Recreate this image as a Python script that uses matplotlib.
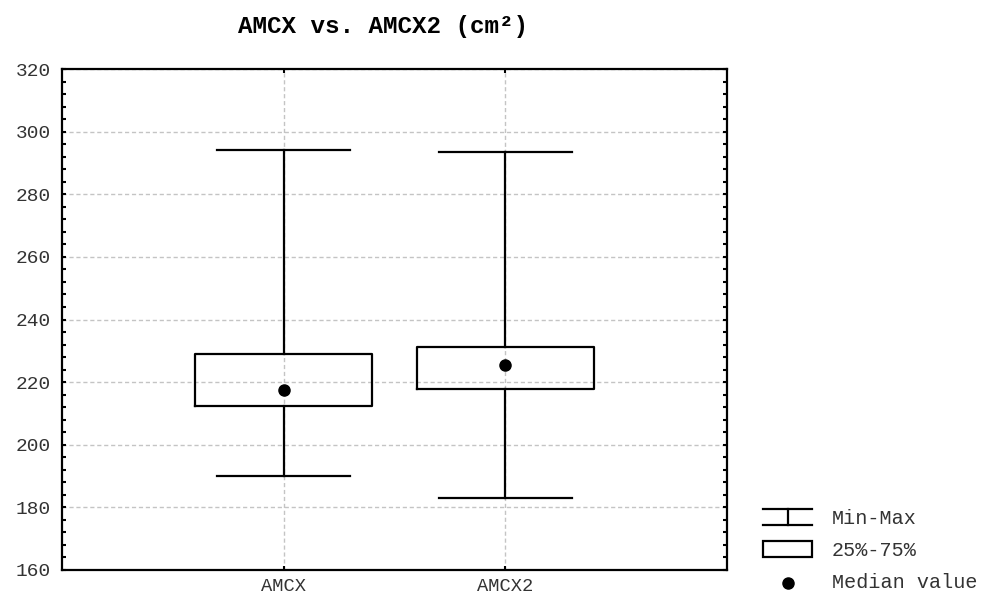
import matplotlib.pyplot as plt
from matplotlib.patches import Rectangle
from matplotlib.ticker import MultipleLocator

# summary stats per variable (cm²)
names = ["AMCX", "AMCX2"]
mins = [190.0, 183.0]
q25 = [212.5, 217.9]
medians = [217.4, 225.4]
q75 = [229.0, 231.1]
maxs = [294.2, 293.6]

yticks = [160, 180, 200, 220, 240, 260, 280, 300, 320]

plt.rcParams['font.family'] = ['Liberation Mono', 'DejaVu Sans Mono']

fig = plt.figure(figsize=(9.82, 5.97), dpi=100)
ax = fig.add_axes([62/982, 1-570/597, 665/982, 501/597])

stats = []
for i in range(len(names)):
    stats.append({"label": names[i], "whislo": mins[i], "q1": q25[i], "med": medians[i],
                  "q3": q75[i], "whishi": maxs[i], "fliers": []})

pos = list(range(1, len(names) + 1))
ax.bxp(stats, positions=pos, widths=0.8, capwidths=0.6, showfliers=False,
       boxprops=dict(color="black", linewidth=1.6),
       whiskerprops=dict(color="black", linewidth=1.6),
       capprops=dict(color="black", linewidth=1.6),
       medianprops=dict(linestyle="none"), zorder=3)
ax.plot(pos, medians, "o", color="black", markersize=8, zorder=4)

ax.set_xlim(0, 3)
ax.set_ylim(160, 320)
ax.set_yticks(yticks)
ax.yaxis.set_minor_locator(MultipleLocator(4))
ax.set_xticks(pos)
ax.set_xticklabels(names)
ax.grid(True, which="major", color="#c4c4c4", linestyle=(0, (3, 2)), linewidth=1.0, zorder=0)
ax.tick_params(which="both", direction="in", length=3, width=1.5, right=True, top=True,
               labelsize=14, labelcolor="#333333", pad=8)
ax.tick_params(axis="x", pad=6, labelsize=13.5)
for s in ax.spines.values():
    s.set_linewidth(1.6)

fig.text(383/982, 1-27/597, "AMCX vs. AMCX2 (cm²)", ha="center", va="center",
         fontsize=17.5, fontweight="bold")

# legend drawn by hand
lg = fig.add_axes([0, 0, 1, 1], facecolor="none")
lg.set_xlim(0, 982)
lg.set_ylim(597, 0)
lg.axis("off")
lg.plot([763, 812], [509, 509], color="black", lw=1.6)
lg.plot([763, 812], [525, 525], color="black", lw=1.6)
lg.plot([788, 788], [509, 525], color="black", lw=1.6)
lg.add_patch(Rectangle((763, 541), 49, 16, fill=False, edgecolor="black", lw=1.6))
lg.plot([788], [583], "o", color="black", markersize=8)
for y, t in [(518, "Min-Max"), (550, "25%-75%"), (583, "Median value")]:
    lg.text(832, y, t, va="center", ha="left", fontsize=14.5, color="#333333")

fig.savefig("out.png", dpi=100)
